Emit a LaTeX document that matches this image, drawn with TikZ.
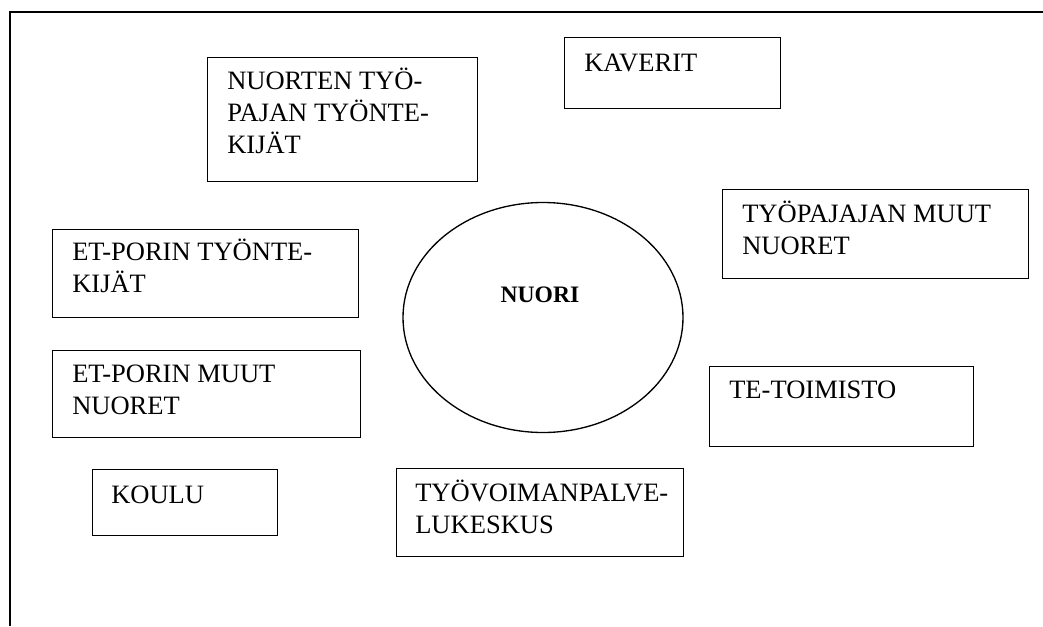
\documentclass[tikz,border=0pt]{standalone}
\usepackage{fontspec}
\setmainfont{Liberation Serif}
\newcommand{\boxtext}[1]{\begin{tabular}[t]{@{}l@{}}#1\end{tabular}}
\begin{document}
\begin{tikzpicture}[x=0.75pt,y=-0.75pt,
  frame/.style={line width=1pt},
  boxshape/.style={draw, line width=1pt, rectangle, inner sep=0pt, anchor=north west},
  lbl/.style={anchor=base west, inner sep=0pt, font=\fontsize{19.9}{24}\selectfont}]
\useasboundingbox (0,0) rectangle (1043,626);
% outer frame
\coordinate (fbl) at (10,626);
\coordinate (ftl) at (10,12);
\coordinate (ftr) at (1043,12);
\draw[frame] (fbl) -- (ftl) -- (ftr);
% boxes
\node[boxshape, minimum width=270*0.75pt, minimum height=124*0.75pt] (b1) at (207,57) {};
\node[lbl] (t1) at (227,89.5) {\boxtext{NUORTEN TYÖ-\\PAJAN TYÖNTE-\\KIJÄT}};
\node[boxshape, minimum width=216*0.75pt, minimum height=71*0.75pt] (b2) at (564,37) {};
\node[lbl] (t2) at (584,71) {KAVERIT};
\node[boxshape, minimum width=306*0.75pt, minimum height=89*0.75pt] (b3) at (722,189) {};
\node[lbl] (t3) at (742,222.5) {\boxtext{TYÖPAJAJAN MUUT\\NUORET}};
\node[boxshape, minimum width=306*0.75pt, minimum height=88*0.75pt] (b4) at (52,229) {};
\node[lbl] (t4) at (72,260.5) {\boxtext{ET-PORIN TYÖNTE-\\KIJÄT}};
\node[boxshape, minimum width=308*0.75pt, minimum height=87*0.75pt] (b5) at (52,350) {};
\node[lbl] (t5) at (72,382.5) {\boxtext{ET-PORIN MUUT\\NUORET}};
\node[boxshape, minimum width=264*0.75pt, minimum height=80*0.75pt] (b6) at (709,366) {};
\node[lbl] (t6) at (729,398) {TE-TOIMISTO};
\node[boxshape, minimum width=185*0.75pt, minimum height=66*0.75pt] (b7) at (92,469) {};
\node[lbl] (t7) at (111,503) {KOULU};
\node[boxshape, minimum width=287*0.75pt, minimum height=88*0.75pt] (b8) at (396,468) {};
\node[lbl] (t8) at (415,501) {\boxtext{TYÖVOIMANPALVE-\\LUKESKUS}};
% centre ellipse
\coordinate (ec) at (543,317.5);
\draw[line width=1pt] (ec) ellipse [x radius=140*0.75pt, y radius=115*0.75pt];
\node[anchor=base, inner sep=0pt, font=\fontsize{17.7}{24}\selectfont\bfseries] (nuori) at (540,302) {NUORI};
\end{tikzpicture}
\end{document}
